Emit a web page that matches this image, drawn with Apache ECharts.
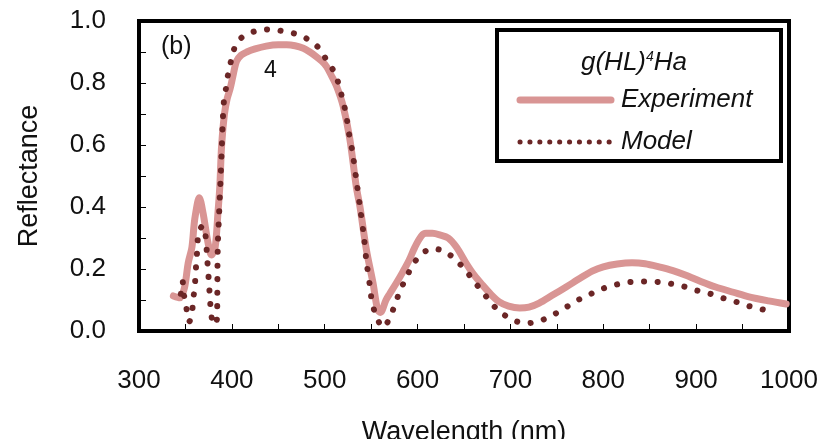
<!DOCTYPE html>
<html>
<head>
<meta charset="utf-8">
<script src="https://cdn.jsdelivr.net/npm/echarts@6/dist/echarts.min.js"></script>
<style>
  html, body { margin: 0; padding: 0; background: #fff; }
  #chart { width: 833px; height: 439px; }
</style>
</head>
<body>
<div id="chart"></div>
<script>
// wavelength (nm), reflectance
var experiment = [
    [337,0.113],[344,0.107],[349,0.14],[353,0.22],[357,0.27],[360,0.36],[365,0.43],[369,0.38],
    [374,0.29],[378,0.245],[382,0.27],[385,0.38],[387,0.465],[389,0.6],[392,0.7],[395,0.75],
    [398,0.78],[401,0.82],[405,0.87],[410,0.89],[416,0.90],[425,0.91],[437,0.919],[450,0.923],
    [459,0.923],[468,0.92],[477,0.912],[484,0.9],[491,0.885],[497,0.87],[502,0.853],[507,0.825],
    [513,0.788],[520,0.724],[527,0.62],[534,0.465],[538,0.40],[545,0.26],[552,0.155],[557,0.068],
    [560,0.06],[566,0.10],[570,0.12],[577,0.154],[584,0.19],[591,0.229],[597,0.27],[604,0.306],
    [609,0.315],[616,0.315],[624,0.31],[633,0.30],[642,0.27],[652,0.22],[661,0.18],[670,0.148],
    [679,0.118],[688,0.094],[698,0.08],[710,0.074],[720,0.077],[731,0.09],[745,0.115],[760,0.142],
    [775,0.17],[788,0.193],[800,0.207],[815,0.216],[831,0.22],[845,0.217],[860,0.207],[875,0.195],
    [889,0.18],[905,0.16],[921,0.142],[940,0.125],[957,0.11],[978,0.097],[997,0.087]
];

var model = [
    [345,0.12],[347,0.16],[348,0.12],[350,0.10],[351,0.075],[354,0.03],[357,0.05],[358,0.095],
    [360,0.14],[361,0.19],[362,0.23],[363,0.275],[364,0.32],[369,0.34],[372,0.30],[373,0.255],
    [374,0.21],[375,0.17],[376,0.125],[377,0.08],[379,0.03],[381,0.02],[384,0.04],[384.3,0.1],
    [384.5,0.2],[385,0.29],[386,0.36],[387,0.43],[388,0.50],[389,0.58],[390,0.66],[391.4,0.74],
    [393.5,0.78],[396,0.83],[399,0.87],[402.5,0.91],[407,0.935],[412,0.95],[426,0.968],[440,0.973],
    [454,0.968],[469,0.958],[483,0.939],[494,0.912],[502,0.874],[510,0.837],[515,0.797],[519,0.75],
    [523,0.70],[526,0.64],[530,0.575],[534,0.489],[538,0.40],[542,0.31],[545,0.224],[549,0.138],
    [551,0.091],[555,0.052],[559,0.025],[563,0.012],[567,0.025],[571,0.05],[576,0.087],[581,0.13],
    [588,0.172],[594,0.21],[603,0.245],[610,0.26],[617,0.266],[624,0.262],[631,0.254],[642,0.227],
    [652,0.195],[661,0.159],[670,0.127],[679,0.091],[690,0.059],[703,0.035],[717,0.025],[732,0.033],
    [746,0.052],[758,0.073],[771,0.097],[784,0.116],[798,0.135],[812,0.148],[826,0.157],[841,0.16],
    [856,0.159],[870,0.154],[885,0.145],[899,0.132],[913,0.122],[928,0.107],[942,0.095],[956,0.081],
    [971,0.07],[985,0.057]
];

var expColor = '#d99594';
var modelColor = '#6b2626';
var font = 'Liberation Sans, Arial, sans-serif';

var chart = echarts.init(document.getElementById('chart'));

var option = {
    animation: false,
    backgroundColor: '#fff',
    grid: {
        left: 139, right: 44, top: 21, bottom: 108,
        outerBoundsMode: 'none',
        containLabel: false,
        show: true, borderColor: '#000', borderWidth: 4, backgroundColor: 'transparent'
    },
    xAxis: {
        type: 'value',
        min: 300, max: 1000, interval: 50,
        name: 'Wavelength (nm)',
        nameLocation: 'middle',
        nameGap: 88,
        nameTextStyle: { fontFamily: font, fontSize: 27, color: '#111' },
        axisLine: { show: true, lineStyle: { color: '#000', width: 4 } },
        axisTick: { show: true, inside: true, length: 7, lineStyle: { color: '#000', width: 1 } },
        axisLabel: {
            fontFamily: font, fontSize: 26, color: '#111', margin: 37,
            formatter: function (v) { return v % 100 === 0 ? String(v) : ''; }
        },
        splitLine: { show: false }
    },
    yAxis: {
        type: 'value',
        min: 0, max: 1, interval: 0.1,
        name: 'Reflectance',
        nameLocation: 'middle',
        nameGap: 96,
        nameTextStyle: { fontFamily: font, fontSize: 27, color: '#111' },
        axisLine: { show: true, lineStyle: { color: '#000', width: 4 } },
        axisTick: { show: true, inside: true, length: 7, lineStyle: { color: '#000', width: 1 } },
        axisLabel: {
            fontFamily: font, fontSize: 26, color: '#111', margin: 33,
            formatter: function (v) {
                var k = Math.round(v * 10);
                return k % 2 === 0 ? (k / 10).toFixed(1) : '';
            }
        },
        splitLine: { show: false }
    },
    series: [
        {
            name: 'Experiment',
            type: 'line',
            data: experiment,
            showSymbol: false,
            smooth: 0.3,
            lineStyle: { color: expColor, width: 7, cap: 'round', join: 'round' },
            z: 2
        },
        {
            name: 'Model',
            type: 'line',
            data: model,
            showSymbol: false,
            smooth: 0.3,
            lineStyle: { color: modelColor, width: 6, type: [0.1, 13.5], cap: 'round' },
            z: 3
        }
    ],
    graphic: [
        {
            type: 'text', left: 161, top: 35,
            style: { text: '(b)', font: '25px ' + font, fill: '#111' }
        },
        {
            type: 'text', left: 264, top: 59,
            style: { text: '4', font: '23px ' + font, fill: '#111' }
        },
        {
            type: 'rect', z: 10,
            shape: { x: 497, y: 30, width: 284, height: 131 },
            style: { fill: '#fff', stroke: '#000', lineWidth: 4 }
        },
        {
            type: 'text', z: 11, left: 581, top: 50,
            style: {
                text: '{a|g(HL)}{s|4}{a|Ha}',
                rich: {
                    a: { fontFamily: font, fontStyle: 'italic', fontSize: 26, fill: '#111' },
                    s: { fontFamily: font, fontStyle: 'italic', fontSize: 14, fill: '#111', verticalAlign: 'top', padding: [0, 0, 10, 0] }
                }
            }
        },
        {
            type: 'line', z: 11,
            shape: { x1: 520, y1: 100, x2: 611, y2: 100 },
            style: { stroke: expColor, lineWidth: 7, lineCap: 'round' }
        },
        {
            type: 'text', z: 11, left: 621, top: 87,
            style: { text: 'Experiment', font: 'italic 26px ' + font, fill: '#111' }
        },
        {
            type: 'line', z: 11,
            shape: { x1: 520, y1: 142, x2: 610, y2: 142 },
            style: { stroke: modelColor, lineWidth: 5, lineCap: 'round', lineDash: [0.1, 9.8] }
        },
        {
            type: 'text', z: 11, left: 621, top: 129,
            style: { text: 'Model', font: 'italic 26px ' + font, fill: '#111' }
        }
    ]
};

chart.setOption(option);
</script>
</body>
</html>
